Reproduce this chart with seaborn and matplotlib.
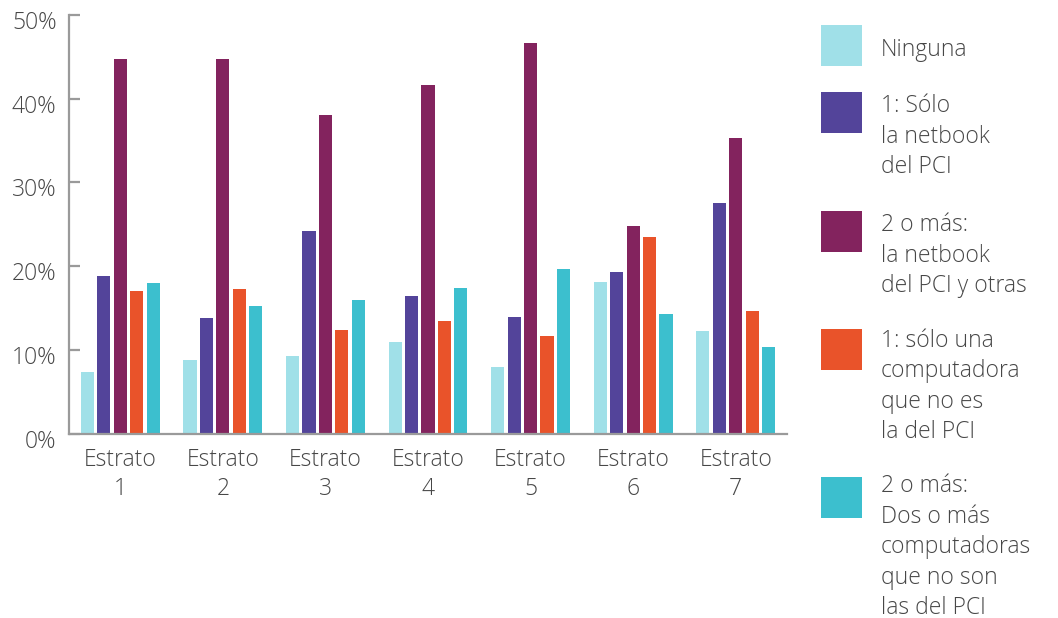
import numpy as np
import pandas as pd
import matplotlib
matplotlib.use("Agg")
import matplotlib.pyplot as plt
from matplotlib.patches import Rectangle
from matplotlib.transforms import ScaledTranslation
import seaborn as sns

# Categories and series (percentages)
estratos = ["Estrato\n1", "Estrato\n2", "Estrato\n3", "Estrato\n4",
            "Estrato\n5", "Estrato\n6", "Estrato\n7"]
series_names = [
    "Ninguna",
    "1: Sólo\nla netbook\ndel PCI",
    "2 o más:\nla netbook\ndel PCI y otras",
    "1: sólo una\ncomputadora\nque no es\nla del PCI",
    "2 o más:\nDos o más\ncomputadoras\nque no son\nlas del PCI",
]
ninguna = [7.4, 8.8, 9.3, 11.0, 8.0, 18.1, 12.3]
solo_netbook = [18.8, 13.8, 24.2, 16.5, 13.9, 19.3, 27.6]
netbook_y_otras = [44.8, 44.8, 38.1, 41.7, 46.7, 24.8, 35.3]
solo_una_otra = [17.0, 17.3, 12.4, 13.5, 11.7, 23.5, 14.7]
dos_o_mas_otras = [18.0, 15.3, 16.0, 17.4, 19.7, 14.3, 10.4]
y_ticks = [0, 10, 20, 30, 40, 50]
y_tick_labels = ["0%", "10%", "20%", "30%", "40%", "50%"]

colors = ["#A0E0E8", "#53449A", "#83235E", "#E9532A", "#3CBFCE"]

values = [ninguna, solo_netbook, netbook_y_otras, solo_una_otra, dos_o_mas_otras]
df = pd.DataFrame({
    "estrato": np.tile(estratos, len(series_names)),
    "serie": np.repeat(series_names, len(estratos)),
    "valor": np.concatenate(values),
})

sns.set_theme(style="white")
plt.rcParams["font.family"] = ["Open Sans", "DejaVu Sans"]

text_color = "#474747"
axis_color = "#9a9a9a"
fs = 16.5
weight = "light"
line_sp = 1.36
line_px = 27.5

fig = plt.figure(figsize=(10.58, 6.18), dpi=100)
ax = fig.add_axes([69 / 1058, 1 - 433.7 / 618, (787 - 69) / 1058, (433.7 - 15) / 618])

sns.barplot(data=df, x="estrato", y="valor", hue="serie",
            hue_order=series_names, order=estratos,
            palette=colors, width=0.8, gap=0.2, saturation=1,
            linewidth=0, legend=False, ax=ax)

ax.set_xlim(-0.5, 6.5)
ax.set_ylim(0, 50)
ax.set_yticks(y_ticks)
ax.set_yticklabels(y_tick_labels)
ax.set_xlabel("")
ax.set_ylabel("")

for side in ["top", "right"]:
    ax.spines[side].set_visible(False)
for side in ["left", "bottom"]:
    ax.spines[side].set_color(axis_color)
    ax.spines[side].set_linewidth(1.6)

ax.tick_params(axis="y", direction="in", length=8, width=1.6, color=axis_color,
               pad=9, labelsize=fs, labelcolor=text_color, left=True)
ax.tick_params(axis="x", length=0, pad=10, labelsize=fs, labelcolor=text_color)
for lbl in ax.get_xticklabels():
    lbl.set_linespacing(1.3)
    lbl.set_fontweight(weight)
shift_down = ScaledTranslation(0, -5 / 100, fig.dpi_scale_trans)
for lbl in ax.get_yticklabels():
    lbl.set_fontweight(weight)
    lbl.set_transform(lbl.get_transform() + shift_down)

# Legend drawn as swatches with wrapped labels (anchored on the last line's baseline)
W, H = 1058, 618
patch_tops = [25, 92, 211, 329, 477]
first_baselines = [55.5, 118, 237, 355.5, 504]
patch_size = 41
for top, base, name, col in zip(patch_tops, first_baselines, series_names, colors):
    fig.add_artist(Rectangle((821 / W, 1 - (top + patch_size) / H),
                             patch_size / W, patch_size / H,
                             transform=fig.transFigure, facecolor=col, edgecolor="none"))
    last_base = base + name.count("\n") * line_px
    fig.text(881 / W, 1 - last_base / H, name, ha="left", va="baseline",
             fontsize=fs, fontweight=weight, color=text_color, linespacing=line_sp)

fig.savefig("out.png", dpi=100)
